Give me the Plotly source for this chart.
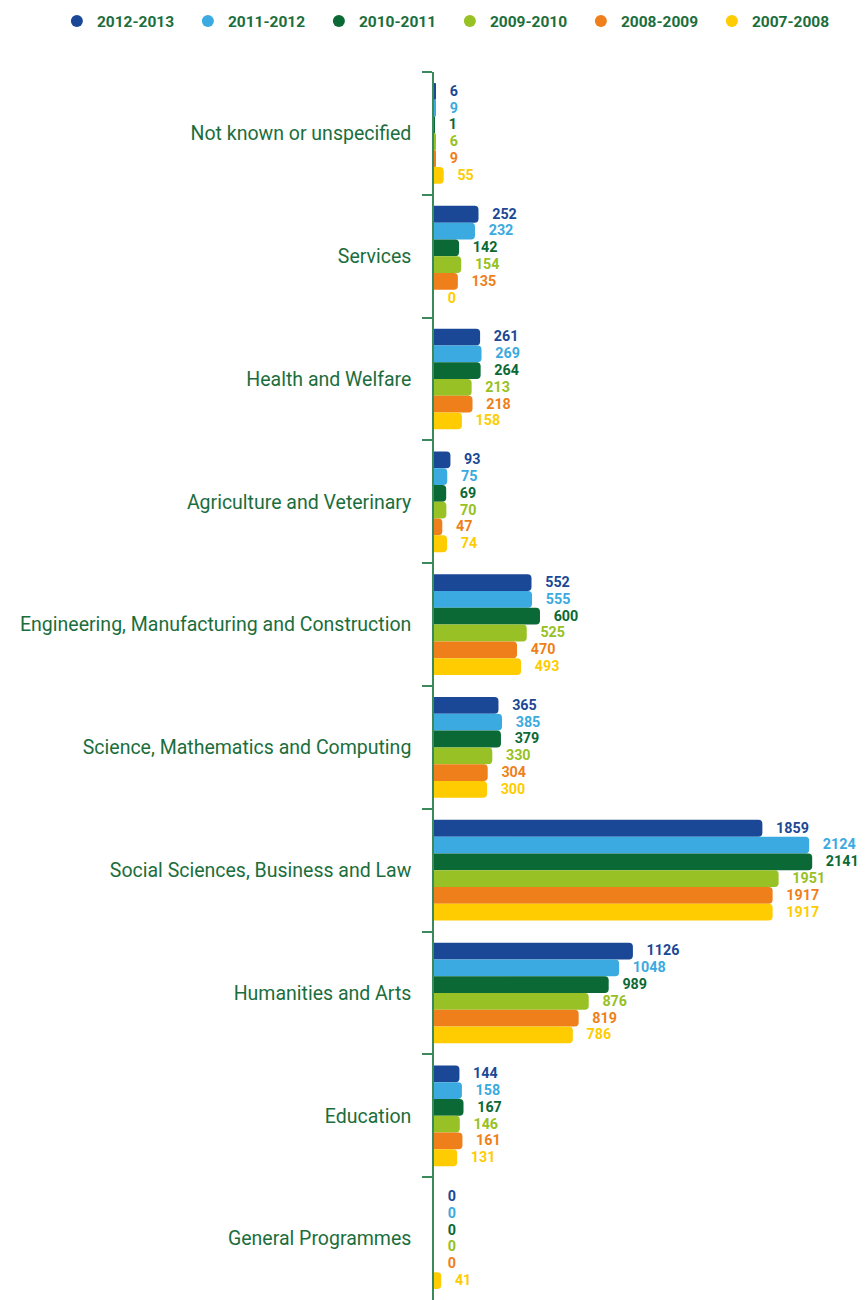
import plotly.graph_objects as go

categories = [
    "Not known or unspecified",
    "Services",
    "Health and Welfare",
    "Agriculture and Veterinary",
    "Engineering, Manufacturing and Construction",
    "Science, Mathematics and Computing",
    "Social Sciences, Business and Law",
    "Humanities and Arts",
    "Education",
    "General Programmes",
]

years = ["2012-2013", "2011-2012", "2010-2011", "2009-2010", "2008-2009", "2007-2008"]

v_2012_2013 = [6, 252, 261, 93, 552, 365, 1859, 1126, 144, 0]
v_2011_2012 = [9, 232, 269, 75, 555, 385, 2124, 1048, 158, 0]
v_2010_2011 = [1, 142, 264, 69, 600, 379, 2141, 989, 167, 0]
v_2009_2010 = [6, 154, 213, 70, 525, 330, 1951, 876, 146, 0]
v_2008_2009 = [9, 135, 218, 47, 470, 304, 1917, 819, 161, 0]
v_2007_2008 = [55, 0, 158, 74, 493, 300, 1917, 786, 131, 41]

series = [v_2012_2013, v_2011_2012, v_2010_2011, v_2009_2010, v_2008_2009, v_2007_2008]
colors = ["#1b4896", "#3aaae0", "#0a6934", "#97c124", "#ef7f1a", "#fecc00"]
text_colors = ["#1b4896", "#3aaae0", "#0a6934", "#97c124", "#ef7f1a", "#fecc00"]

GREEN = "#1b6e3c"
FONT = "Roboto"

fig = go.Figure()
for name, vals, c, tc in zip(years, series, colors, text_colors):
    fig.add_trace(go.Bar(
        y=categories, x=vals, orientation="h", name=name,
        marker=dict(color=c, line=dict(width=0)),
        text=["\u00a0\u00a0\u00a0" + str(v) for v in vals],
        textposition="outside",
        textfont=dict(color=tc, size=14.5, family=FONT, weight="bold"),
        cliponaxis=False,
        showlegend=False,
    ))
    fig.add_trace(go.Scatter(
        x=[None], y=[None], mode="markers", name=name,
        marker=dict(color=c, size=14, symbol="circle"),
        showlegend=True,
    ))

fig.update_layout(
    width=865, height=1300,
    margin=dict(l=434, r=0, t=72, b=0),
    paper_bgcolor="white", plot_bgcolor="white",
    barmode="group", bargap=0.18, bargroupgap=0.0,
    barcornerradius=4,
    font=dict(family=FONT, color=GREEN),
    legend=dict(
        orientation="h", x=-0.875, xanchor="left", y=1.055, yanchor="top",
        font=dict(size=15.5, color=GREEN, family=FONT, weight="bold"),
        entrywidth=86, entrywidthmode="pixels",
        itemsizing="constant", traceorder="normal",
    ),
    xaxis=dict(range=[0, 2440], visible=False, showgrid=False, zeroline=False),
    yaxis=dict(
        autorange="reversed", showgrid=False, zeroline=False,
        showline=True, linecolor="#3a8a5c", linewidth=1.5,
        ticks="outside", ticklen=10, tickcolor="#3a8a5c", tickwidth=1.5,
        tickson="boundaries", ticklabelstandoff=17,
        tickfont=dict(size=19.5, color=GREEN, family=FONT),
    ),
)

fig.write_html("out.html")
